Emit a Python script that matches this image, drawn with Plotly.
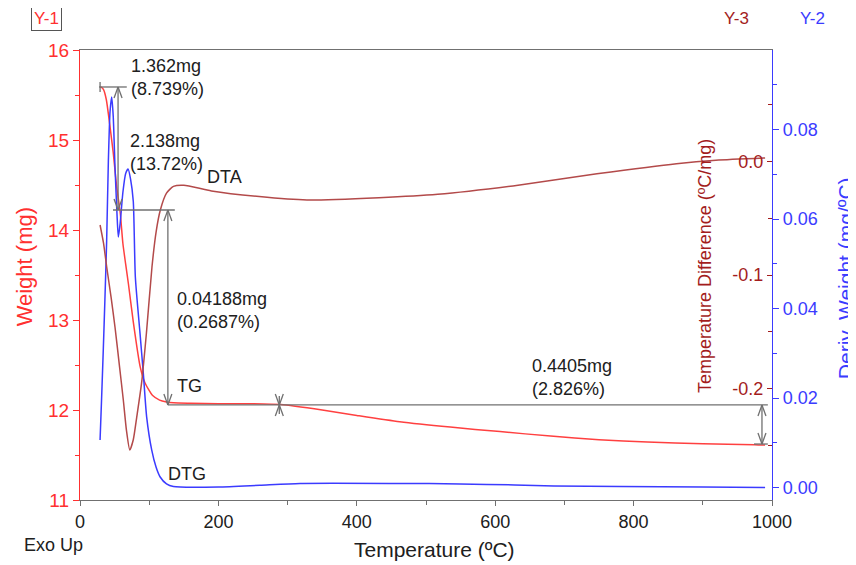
import plotly.graph_objects as go

# ---------------- data ----------------
tg_temp = [29, 31, 34, 38, 43, 48, 53, 58, 62, 66, 70, 77, 87, 94, 105, 115, 125, 135, 160,
           200, 246, 290, 350, 400, 462, 535, 607, 680, 750, 820, 900, 975, 990]
tg_weight = [15.59, 15.585, 15.56, 15.45, 15.17, 14.86, 14.48, 14.20, 13.85, 13.62, 13.40,
             12.98, 12.48, 12.30, 12.16, 12.11, 12.09, 12.08, 12.075, 12.07, 12.07, 12.06,
             12.00, 11.94, 11.87, 11.81, 11.76, 11.71, 11.67, 11.645, 11.625, 11.615, 11.61]

dta_temp = [29, 34, 38.6, 45, 50.6, 57, 62.6, 67, 72, 77, 82, 89, 96, 104, 110, 116, 125,
            135, 150, 190, 259, 328, 432, 517, 633, 747, 862, 919, 990]
dta_diff = [-0.056, -0.072, -0.093, -0.12, -0.146, -0.18, -0.21, -0.236, -0.254, -0.245,
            -0.225, -0.195, -0.151, -0.093, -0.062, -0.043, -0.028, -0.022, -0.021, -0.026,
            -0.031, -0.034, -0.032, -0.029, -0.021, -0.011, -0.002, 0.001, 0.003]

dtg_temp = [29, 31, 33.7, 36, 38.5, 41, 43.4, 45.8, 48, 50.6, 53.5, 55.4, 58, 62, 66, 69.5,
            73, 77, 80, 86.7, 91.5, 96.3, 103.6, 110, 115.6, 125, 135, 200, 260, 318, 462,
            549, 628, 685, 781, 900, 990]
dtg_deriv = [0.0106, 0.019, 0.031, 0.042, 0.055, 0.073, 0.084, 0.0873, 0.083, 0.0716, 0.061,
             0.056, 0.059, 0.066, 0.0702, 0.0712, 0.069, 0.064, 0.047, 0.0345, 0.0255, 0.0158,
             0.0084, 0.0045, 0.0024, 0.0008, 0.0002, 0.0001, 0.0005, 0.0009, 0.0009, 0.0008,
             0.00056, 0.00034, 0.0002, 0.0001, 0.0]

x_ticks = [0, 200, 400, 600, 800, 1000]
y1_ticks = [11, 12, 13, 14, 15, 16]
y2_ticks = [0.0, 0.02, 0.04, 0.06, 0.08]
y2_tick_text = ["0.00", "0.02", "0.04", "0.06", "0.08"]
y3_ticks = [-0.2, -0.1, 0.0]
y3_tick_text = ["-0.2", "-0.1", "0.0"]

# weight levels of the step analysis (mg) and their labels
step_levels = [15.589, 14.222, 12.056, 11.622]
step_labels = ["1.362mg<br>(8.739%)", "2.138mg<br>(13.72%)",
               "0.04188mg<br>(0.2687%)", "0.4405mg<br>(2.826%)"]
curve_labels = ["TG", "DTA", "DTG"]

# ---------------- styles ----------------
RED = "#ff3030"
TG_RED = "#ff4040"
DARK = "#a31d1d"
DTA_COL = "#b34a4a"
BLUE = "#3b3bff"
GREY = "#707070"
FONT = "Liberation Sans, Arial, sans-serif"

fig = go.Figure()
fig.add_trace(go.Scatter(x=dtg_temp, y=dtg_deriv, yaxis="y2", mode="lines",
                         line=dict(color=BLUE, width=1.5, shape="spline", smoothing=0.6),
                         showlegend=False, hoverinfo="skip"))
fig.add_trace(go.Scatter(x=dta_temp, y=dta_diff, yaxis="y3", mode="lines",
                         line=dict(color=DTA_COL, width=1.5, shape="spline", smoothing=0.6),
                         showlegend=False, hoverinfo="skip"))
fig.add_trace(go.Scatter(x=tg_temp, y=tg_weight, yaxis="y", mode="lines",
                         line=dict(color=TG_RED, width=1.5, shape="spline", smoothing=0.6),
                         showlegend=False, hoverinfo="skip"))

# ---------------- step-analysis drawing (in data coordinates) ----------------
PX_X = 1000 / 692.0
PX_Y = 5 / 450.0
shapes = []


def seg(x0, y0, x1, y1):
    shapes.append(dict(type="line", xref="x", yref="y", x0=x0, y0=y0, x1=x1, y1=y1,
                       line=dict(color=GREY, width=1.3)))


def head(x, y, up):
    s = -1 if up else 1
    seg(x - 4 * PX_X, y + s * 11 * PX_Y, x, y)
    seg(x, y, x + 4 * PX_X, y + s * 11 * PX_Y)


w0, w1, w2, w3 = step_levels
# first step
seg(27.5, w0, 67.6, w0)
seg(29, w0 - 5 * PX_Y, 29, w0 + 5 * PX_Y)
seg(55, w0, 55, w1)
head(55, w0, True)
head(55, w1, False)
# second step
seg(47.7, w1, 137, w1)
seg(127, w1, 127, w2)
head(127, w1, True)
head(127, w2, False)
# long level line
seg(127, w2, 994, w2)
seg(288, w2 - 9 * PX_Y, 288, w2 + 9 * PX_Y)
head(288, w2, True)
head(288, w2, False)
# last step
seg(974, w3, 994, w3)
seg(985.5, w2, 985.5, w3)
head(985.5, w2, True)
head(985.5, w3, False)

ann = []
tfont = dict(family=FONT, size=18, color="#202020")
ann.append(dict(x=70.8, y=15.70, xref="x", yref="y", text=step_labels[0], showarrow=False,
                xanchor="left", yanchor="middle", align="left", font=tfont))
ann.append(dict(x=69.4, y=14.856, xref="x", yref="y", text=step_labels[1], showarrow=False,
                xanchor="left", yanchor="middle", align="left", font=tfont))
ann.append(dict(x=137.3, y=13.11, xref="x", yref="y", text=step_labels[2], showarrow=False,
                xanchor="left", yanchor="middle", align="left", font=tfont))
ann.append(dict(x=650, y=12.356, xref="x", yref="y", text=step_labels[3], showarrow=False,
                xanchor="left", yanchor="middle", align="left", font=tfont))
ann.append(dict(x=137.3, y=12.27, xref="x", yref="y", text=curve_labels[0], showarrow=False,
                xanchor="left", yanchor="middle", font=tfont))
ann.append(dict(x=180.6, y=14.59, xref="x", yref="y", text=curve_labels[1], showarrow=False,
                xanchor="left", yanchor="middle", font=tfont))
ann.append(dict(x=124, y=11.29, xref="x", yref="y", text=curve_labels[2], showarrow=False,
                xanchor="left", yanchor="middle", font=tfont))

# axis titles & corner labels (paper coords)
ann.append(dict(x=-0.0809, y=0.517, xref="paper", yref="paper", text="Weight (mg)",
                textangle=-90, showarrow=False, xanchor="center", yanchor="middle",
                font=dict(family=FONT, size=22, color=RED)))
ann.append(dict(x=0.9032, y=0.52, xref="paper", yref="paper",
                text="Temperature Difference (ºC/mg)", textangle=-90, showarrow=False,
                xanchor="center", yanchor="middle", font=dict(family=FONT, size=18, color=DARK)))
ann.append(dict(x=1.1055, y=0.493, xref="paper", yref="paper", text="Deriv. Weight (mg/ºC)",
                textangle=-90, showarrow=False, xanchor="center", yanchor="middle",
                font=dict(family=FONT, size=21, color=BLUE)))
ann.append(dict(x=-0.049, y=1.071, xref="paper", yref="paper", text="Y-1", showarrow=False,
                xanchor="center", yanchor="middle", bordercolor="#555555", borderwidth=1,
                borderpad=2, font=dict(family=FONT, size=17, color=RED)))
ann.append(dict(x=0.949, y=1.071, xref="paper", yref="paper", text="Y-3", showarrow=False,
                xanchor="center", yanchor="middle", font=dict(family=FONT, size=17, color=DARK)))
ann.append(dict(x=1.058, y=1.071, xref="paper", yref="paper", text="Y-2", showarrow=False,
                xanchor="center", yanchor="middle", font=dict(family=FONT, size=17, color=BLUE)))
ann.append(dict(x=-0.084, y=-0.10, xref="paper", yref="paper", text="Exo Up", showarrow=False,
                xanchor="left", yanchor="middle", font=dict(family=FONT, size=18, color="#202020")))
ann.append(dict(x=0.513, y=-0.111, xref="paper", yref="paper", text="Temperature (ºC)",
                showarrow=False, xanchor="center", yanchor="middle",
                font=dict(family=FONT, size=21, color="#202020")))

# the page adds an 8px body margin, so the figure is 8px smaller on each axis
fig.update_layout(
    width=848, height=557,
    margin=dict(l=72, r=84, t=42, b=65, autoexpand=False),
    paper_bgcolor="white", plot_bgcolor="white",
    font=dict(family=FONT, size=16, color="#202020"),
    shapes=shapes, annotations=ann,
    xaxis=dict(range=[0, 1000], tickvals=x_ticks, ticks="outside", ticklen=5,
               tickcolor=GREY, showline=True, linecolor=GREY, linewidth=1.3, mirror=True,
               showgrid=False, zeroline=False, automargin=False,
               tickfont=dict(family=FONT, size=18, color="#202020"),
               minor=dict(dtick=100, ticks="outside", ticklen=4, tickcolor=GREY)),
    yaxis=dict(range=[11, 16], tickvals=y1_ticks, ticks="outside", ticklen=6,
               tickcolor=RED, showline=True, linecolor=RED, linewidth=1.3,
               showgrid=False, zeroline=False, automargin=False,
               tickfont=dict(family=FONT, size=19, color=RED),
               minor=dict(dtick=0.5, ticks="outside", ticklen=4, tickcolor=RED)),
    yaxis2=dict(range=[-0.0028, 0.0978], overlaying="y", side="right", anchor="x",
                tickvals=y2_ticks, ticktext=y2_tick_text, ticks="outside", ticklen=6,
                tickcolor=BLUE, showline=True, linecolor=BLUE, linewidth=1.3,
                showgrid=False, zeroline=False, automargin=False,
                tickfont=dict(family=FONT, size=18, color=BLUE),
                minor=dict(dtick=0.01, ticks="outside", ticklen=4, tickcolor=BLUE)),
    yaxis3=dict(range=[-0.298, 0.098], overlaying="y", side="left", anchor="free",
                position=1.0, tickvals=y3_ticks, ticktext=y3_tick_text,
                ticks="outside", ticklen=5, tickcolor=DARK, showline=False,
                showgrid=False, zeroline=False, automargin=False,
                tickfont=dict(family=FONT, size=18, color=DARK),
                minor=dict(tickvals=[-0.25, -0.15, -0.05, 0.05], ticks="outside",
                           ticklen=4, tickcolor=DARK)),
)

fig.write_html("out.html")
